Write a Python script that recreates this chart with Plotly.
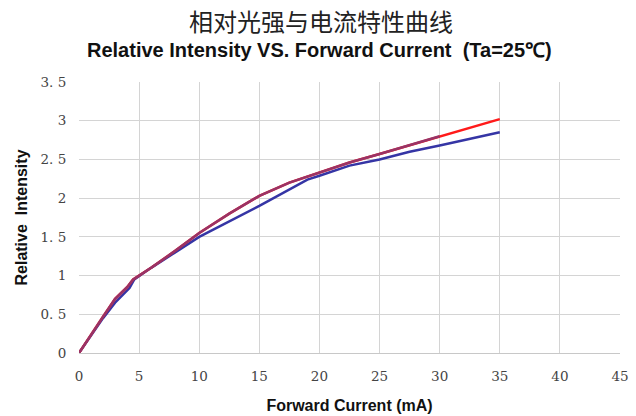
import plotly.graph_objects as go

# Data
blue_x = [0, 1, 2, 3, 4, 4.2, 4.6, 6, 8, 10, 15, 19, 20, 22.5, 25, 27.5, 30, 35]
blue_y = [0, 0.22, 0.45, 0.65, 0.8, 0.84, 0.95, 1.1, 1.3, 1.5, 1.9, 2.24, 2.29, 2.42, 2.5, 2.6, 2.68, 2.85]

purple_x = [0, 1, 2, 3, 4, 4.5, 6, 8, 10, 12.5, 15, 17.5, 20, 22.5, 25, 27.5, 30]
purple_y = [0, 0.24, 0.47, 0.7, 0.85, 0.95, 1.1, 1.32, 1.55, 1.8, 2.03, 2.2, 2.33, 2.46, 2.57, 2.68, 2.8]

red_x = purple_x + [35]
red_y = purple_y + [3.02]

x_ticks = [0, 5, 10, 15, 20, 25, 30, 35, 40, 45]
y_ticks = [0, 0.5, 1, 1.5, 2, 2.5, 3, 3.5]
y_ticktext = ["0", "0. 5", "1", "1. 5", "2", "2. 5", "3", "3. 5"]

L, R, T, B = 79, 16, 82, 63
W, H = 636, 416
plot_w = W - L - R
plot_h = H - T - B

fig = go.Figure()
fig.add_trace(go.Scatter(x=blue_x, y=blue_y, mode="lines",
                         line=dict(color="#3535a5", width=2.5), showlegend=False))
fig.add_trace(go.Scatter(x=red_x, y=red_y, mode="lines",
                         line=dict(color="#ff1a1a", width=2.5), showlegend=False))
fig.add_trace(go.Scatter(x=purple_x, y=purple_y, mode="lines",
                         line=dict(color="#993366", width=2.5), showlegend=False))

tickfont = dict(family="DejaVu Serif, Liberation Serif, serif", size=13.5, color="#444")
titlefont = dict(family="Liberation Sans, Arial, sans-serif", size=16, color="#111")
fig.update_layout(
    width=W, height=H,
    margin=dict(l=L, r=R, t=T, b=B),
    paper_bgcolor="white", plot_bgcolor="white",
    xaxis=dict(range=[0, 45], tickvals=x_ticks, showgrid=True, gridcolor="#d4d4d4",
               gridwidth=1, zeroline=False, showline=True, linecolor="#c8c8c8",
               tickfont=tickfont, ticks="outside", ticklen=11, tickcolor="rgba(0,0,0,0)",
               automargin=False,
               title=dict(text="<b>Forward Current (mA)</b>", font=titlefont, standoff=16)),
    yaxis=dict(range=[0, 3.5], tickvals=y_ticks, ticktext=y_ticktext, showgrid=True,
               gridcolor="#d4d4d4", gridwidth=1, zeroline=False, showline=False,
               tickfont=tickfont, ticks="outside", ticklen=9, tickcolor="rgba(0,0,0,0)",
               automargin=False,
               title=dict(text="<b>Relative  Intensity</b>", font=titlefont, standoff=8)),
    annotations=[
        dict(text="相对光强与电流特性曲线",
             x=(321 - L) / plot_w, xref="paper", y=1 + (T - 20) / plot_h, yref="paper",
             showarrow=False, xanchor="center", yanchor="middle",
             font=dict(family="Noto Sans CJK SC", size=24, color="#222")),
        dict(text="<b>Relative Intensity VS. Forward Current  (Ta=25℃)</b>",
             x=(319 - L) / plot_w, xref="paper", y=1 + (T - 50) / plot_h, yref="paper",
             showarrow=False, xanchor="center", yanchor="middle",
             font=dict(family="Liberation Sans, Arial, sans-serif", size=20, color="#111")),
    ],
)

fig.write_html("out.html", config={"displayModeBar": False},
               post_script="document.body.style.margin='0';document.body.style.overflow='hidden';")
